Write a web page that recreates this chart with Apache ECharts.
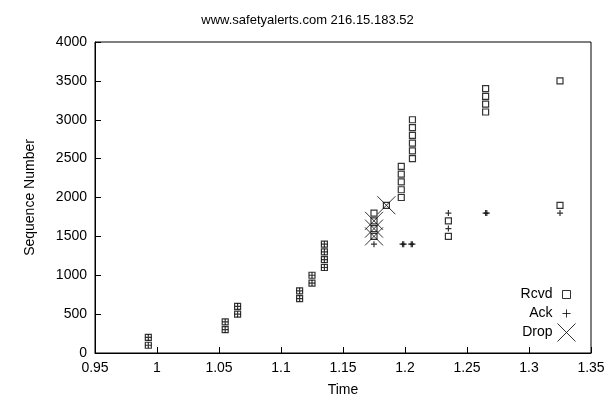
<!DOCTYPE html>
<html><head><meta charset="utf-8">
<script src="https://cdn.jsdelivr.net/npm/echarts@6/dist/echarts.min.js"></script>
<style>html,body{margin:0;background:#fff}#c{width:615px;height:409px}</style>
</head><body><div id="c"></div>
<script>
var rcvd = [[0.993,100],[0.993,200],[1.055,300],[1.055,400],[1.065,500],[1.065,600],
  [1.115,700],[1.115,800],[1.125,900],[1.125,1000],[1.135,1100],[1.135,1200],[1.135,1300],[1.135,1400],
  [1.175,1500],[1.175,1600],[1.175,1700],[1.175,1800],[1.185,1900],
  [1.197,2000],[1.197,2100],[1.197,2200],[1.197,2300],[1.197,2400],
  [1.206,2500],[1.206,2600],[1.206,2700],[1.206,2800],[1.206,2900],[1.206,3000],
  [1.235,1500],[1.235,1700],[1.265,3100],[1.265,3200],[1.265,3300],[1.265,3400],
  [1.325,1900],[1.325,3500]];
var ack = [[0.993,100],[0.993,200],[1.055,300],[1.055,400],[1.065,500],[1.065,600],
  [1.115,700],[1.115,800],[1.125,900],[1.125,1000],[1.135,1100],[1.135,1200],[1.135,1300],[1.135,1400],
  [1.175,1400],[1.198,1400],[1.199,1400],[1.205,1400],[1.206,1400],
  [1.235,1600],[1.235,1800],[1.265,1800],[1.266,1800],[1.325,1800]];
var drop = [[1.175,1500],[1.175,1600],[1.175,1700],[1.185,1900]];

var plus = 'path://M5,0L5,10M0,5L10,5';
var cross = 'path://M0,0L10,10M10,0L0,10';
var chart = echarts.init(document.getElementById('c'));
var fnt = { fontFamily: 'Liberation Sans', color: '#000', fontSize: 14 };
var ls = { color: 'transparent', borderColor: '#000', borderWidth: 1 };
chart.setOption({
  animation: false,
  title: { text: 'www.safetyalerts.com 216.15.183.52', left: 'center', top: 9,
    textStyle: { fontFamily: 'Liberation Sans', fontWeight: 'normal', fontSize: 13, color: '#000' } },
  grid: { left: 95, right: 24, top: 42, bottom: 56 },
  legend: {
    orient: 'vertical', right: 34, bottom: 62, align: 'right', itemGap: 0,
    itemWidth: 18, itemHeight: 18, textStyle: fnt,
    data: [
      { name: 'Rcvd', icon: 'path://M0,0M18,18M5,5h8v8h-8z', itemStyle: ls },
      { name: 'Ack', icon: 'path://M0,0M18,18M9,5v8M5,9h8', itemStyle: ls },
      { name: 'Drop', icon: cross, itemStyle: ls }
    ]
  },
  xAxis: {
    type: 'value', min: 0.95, max: 1.35, interval: 0.05, name: 'Time', nameLocation: 'middle', nameGap: 30,
    nameTextStyle: fnt, axisLabel: fnt, splitLine: { show: false },
    axisLine: { show: true, onZero: false, lineStyle: { color: '#000' } },
    axisTick: { inside: true, length: 6, lineStyle: { color: '#000' } }
  },
  yAxis: {
    type: 'value', min: 0, max: 4000, interval: 500, name: 'Sequence Number', nameLocation: 'middle', nameGap: 58,
    nameTextStyle: fnt, axisLabel: Object.assign({ formatter: function (v) { return String(v); } }, fnt),
    splitLine: { show: false },
    axisLine: { show: true, lineStyle: { color: '#000' } },
    axisTick: { inside: true, length: 6, lineStyle: { color: '#000' } }
  },
  series: [
    { name: 'Rcvd', type: 'scatter', data: rcvd, symbol: 'rect', symbolSize: 6,
      itemStyle: { color: '#fff', borderColor: '#000', borderWidth: 1.2 } },
    { name: 'Ack', type: 'scatter', data: ack, symbol: plus, symbolSize: 6,
      itemStyle: { color: 'transparent', borderColor: '#000', borderWidth: 1.2 } },
    { name: 'Drop', type: 'scatter', data: drop, symbol: cross, symbolSize: 18,
      itemStyle: ls }
  ],
  graphic: [{ type: 'rect', shape: { x: 95, y: 42, width: 496, height: 311 },
    style: { fill: 'none', stroke: '#000', lineWidth: 1 }, silent: true }]
});
</script></body></html>
